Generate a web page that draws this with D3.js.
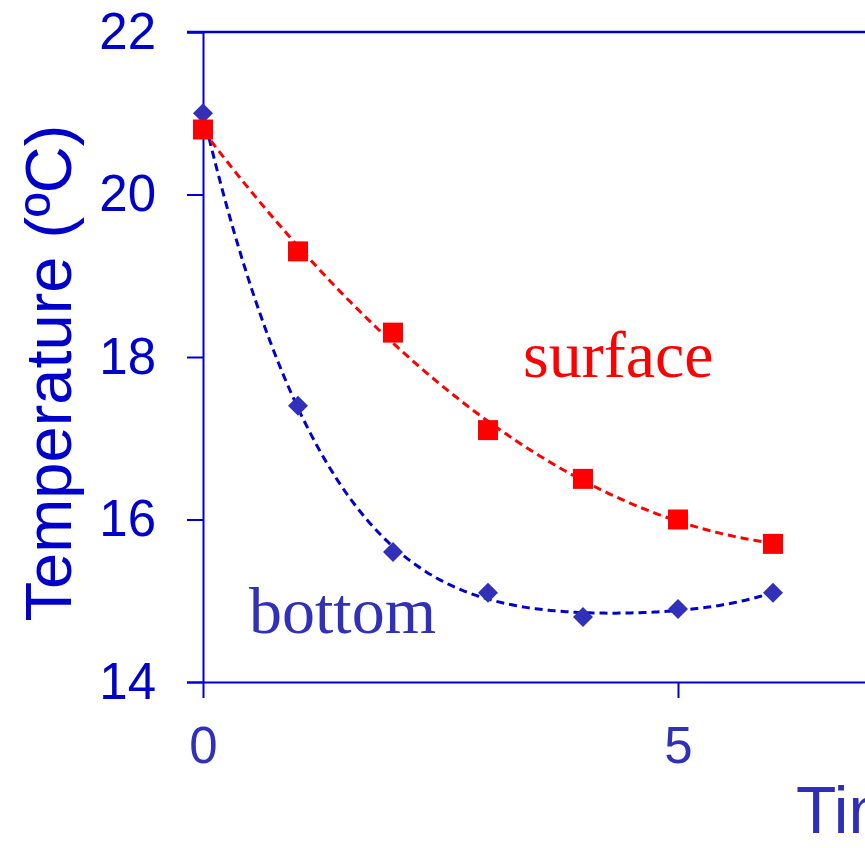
<!DOCTYPE html>
<html>
<head>
<meta charset="utf-8">
<script src="https://cdn.jsdelivr.net/npm/d3@7"></script>
<style>
  body { margin: 0; background: #fff; }
  #chart { width: 865px; height: 848px; overflow: hidden; }
  .axis path, .axis line { stroke: #0000cc; stroke-width: 2; }
  .axis text { font-family: "Liberation Sans", Arial, sans-serif; font-size: 51px; }
</style>
</head>
<body>
<div id="chart"></div>
<script>
// days since start
var times = [0, 1, 2, 3, 4, 5, 6];
var surfaceTemps = [20.8, 19.3, 18.3, 17.1, 16.5, 16.0, 15.7];
var bottomTemps = [21.0, 17.4, 15.6, 15.1, 14.8, 14.9, 15.1];
var yTicks = [14, 16, 18, 20, 22];
var xTicks = [0, 5];

var width = 865, height = 848;
var plot = {left: 203, top: 32, right: 1153, bottom: 682};

var svg = d3.select('#chart').append('svg')
    .attr('width', width)
    .attr('height', height);

var xScale = d3.scaleLinear()
    .domain([0, 10])
    .range([plot.left, plot.right]);

var yScale = d3.scaleLinear()
    .domain([14, 22])
    .range([plot.bottom, plot.top]);

// least squares polynomial trendline, like the spreadsheet's one
function polyFit(xs, ys, order) {
  var n = order + 1;
  var A = [], b = [];
  for (var i = 0; i < n; i++) {
    A.push([]);
    for (var j = 0; j < n; j++) A[i].push(d3.sum(xs, x => Math.pow(x, i + j)));
    b.push(d3.sum(xs, (x, k) => ys[k] * Math.pow(x, i)));
  }
  // gaussian elimination
  for (var c = 0; c < n; c++) {
    for (var r = c + 1; r < n; r++) {
      var f = A[r][c] / A[c][c];
      for (var k = c; k < n; k++) A[r][k] -= f * A[c][k];
      b[r] -= f * b[c];
    }
  }
  var coef = new Array(n).fill(0);
  for (var r2 = n - 1; r2 >= 0; r2--) {
    var s = b[r2];
    for (var k2 = r2 + 1; k2 < n; k2++) s -= A[r2][k2] * coef[k2];
    coef[r2] = s / A[r2][r2];
  }
  return x => d3.sum(coef, (a, p) => a * Math.pow(x, p));
}

function trend(ys, order) {
  var fn = polyFit(times, ys, order);
  var ext = d3.extent(times);
  return d3.range(ext[0], ext[1] + 0.001, 0.05).map(x => [x, fn(x)]);
}

var line = d3.line()
    .x(d => xScale(d[0]))
    .y(d => yScale(d[1]))
    .curve(d3.curveMonotoneX);

// top frame line
svg.append('line')
    .attr('x1', plot.left - 16)
    .attr('x2', plot.right)
    .attr('y1', plot.top)
    .attr('y2', plot.top)
    .attr('stroke', '#0000cc')
    .attr('stroke-width', 2.5);

svg.append('g')
    .attr('class', 'y axis')
    .attr('transform', `translate(${plot.left},0)`)
    .call(d3.axisLeft(yScale).tickValues(yTicks).tickSize(16).tickPadding(31))
    .selectAll('text')
    .attr('fill', '#0000cc');

svg.append('g')
    .attr('class', 'x axis')
    .attr('transform', `translate(0,${plot.bottom})`)
    .call(d3.axisBottom(xScale).tickValues(xTicks).tickSize(16).tickSizeOuter(0).tickPadding(29))
    .selectAll('text')
    .attr('fill', '#3030b8');

// trend lines
svg.append('path')
    .datum(trend(bottomTemps, 4))
    .attr('d', line)
    .attr('fill', 'none')
    .attr('stroke', '#0000cc')
    .attr('stroke-width', 3)
    .attr('stroke-dasharray', '8,5');

svg.append('path')
    .datum(trend(surfaceTemps, 2))
    .attr('d', line)
    .attr('fill', 'none')
    .attr('stroke', '#ff0000')
    .attr('stroke-width', 3)
    .attr('stroke-dasharray', '8,5');

// markers
svg.selectAll('.bottom-pt')
    .data(times)
    .enter()
    .append('path')
    .attr('class', 'bottom-pt')
    .attr('d', d3.symbol(d3.symbolDiamond2, 255))
    .attr('transform', (d, i) => `translate(${xScale(d)},${yScale(bottomTemps[i])})`)
    .attr('fill', '#3030b8');

svg.selectAll('.surface-pt')
    .data(times)
    .enter()
    .append('rect')
    .attr('class', 'surface-pt')
    .attr('x', d => xScale(d) - 10)
    .attr('y', (d, i) => yScale(surfaceTemps[i]) - 10)
    .attr('width', 20)
    .attr('height', 20)
    .attr('fill', '#ff0000');

// series labels
svg.append('text')
    .attr('x', 523)
    .attr('y', 377)
    .attr('fill', '#ff0000')
    .style('font-family', '"Liberation Serif", "Times New Roman", serif')
    .style('font-size', '66px')
    .text('surface');

svg.append('text')
    .attr('x', 249)
    .attr('y', 633)
    .attr('fill', '#3030b8')
    .style('font-family', '"Liberation Serif", "Times New Roman", serif')
    .style('font-size', '66px')
    .text('bottom');

// axis titles
svg.append('text')
    .attr('transform', 'translate(71,373) rotate(-90)')
    .attr('text-anchor', 'middle')
    .attr('fill', '#0000cc')
    .style('font-family', '"Liberation Sans", Arial, sans-serif')
    .style('font-size', '65px')
    .text('Temperature (ºC)');

svg.append('text')
    .attr('x', 796)
    .attr('y', 833)
    .attr('fill', '#2e2eb8')
    .style('font-family', '"Liberation Sans", Arial, sans-serif')
    .style('font-size', '66px')
    .text('Time (days)');
</script>
</body>
</html>
